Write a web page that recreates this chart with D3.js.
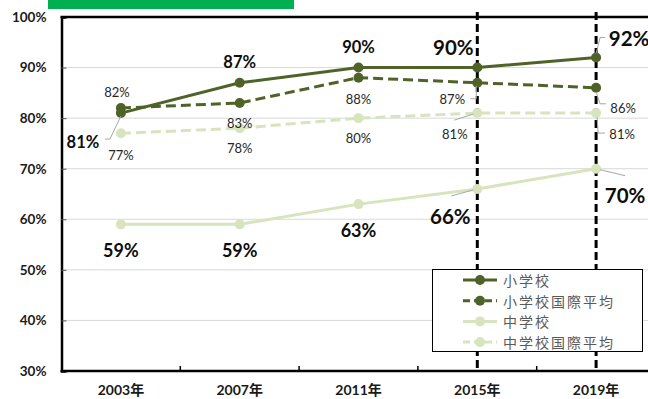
<!DOCTYPE html>
<html>
<head>
<meta charset="utf-8">
<script src="https://cdn.jsdelivr.net/npm/d3@7"></script>
<style>
  html, body { margin: 0; padding: 0; background: #fff; }
  svg { display: block; }
</style>
</head>
<body>
<svg id="chart" width="648" height="399"></svg>
<script>
// Survey years and the four percentage series
const years = ['2003年', '2007年', '2011年', '2015年', '2019年'];
const elementary = [81, 87, 90, 90, 92];
const elementaryIntl = [82, 83, 88, 87, 86];
const juniorHigh = [59, 59, 63, 66, 70];
const juniorHighIntl = [77, 78, 80, 81, 81];
const yTicks = [30, 40, 50, 60, 70, 80, 90, 100];
const seriesNames = ['小学校', '小学校国際平均', '中学校', '中学校国際平均'];
const markedYears = ['2015年', '2019年'];

const DARK = '#4f6228';
const LIGHT = '#d7e4bd';
const NUM_FONT = 'Lato, "Liberation Sans", sans-serif';
const CJK_FONT = '"Noto Sans CJK JP", "Noto Sans", sans-serif';

const svg = d3.select('#chart');
const W = 648;

const x = d3.scaleBand().domain(years).range([61.5, 655.5]);
const y = d3.scaleLinear().domain([30, 100]).range([371, 17]);
const cx = d => x(d) + x.bandwidth() / 2;

// header band
svg.append('rect').attr('x', 48).attr('y', 0).attr('width', 246).attr('height', 9).attr('fill', '#00b050');

// horizontal gridlines
svg.append('g').selectAll('line')
  .data(yTicks.filter(t => t > 30 && t < 100))
  .join('line')
  .attr('x1', x.range()[0]).attr('x2', W)
  .attr('y1', d => y(d)).attr('y2', d => y(d))
  .attr('stroke', '#d9d9d9').attr('stroke-width', 1);

// y axis with inward ticks
const yAxis = svg.append('g')
  .attr('transform', `translate(${x.range()[0]},0)`)
  .call(d3.axisLeft(y).tickValues(yTicks).tickFormat(d => d + '%').tickSize(-5).tickPadding(15));
yAxis.select('.domain').attr('stroke', '#000').attr('stroke-width', 2.5);
yAxis.selectAll('.tick line').attr('stroke', '#595959').attr('stroke-width', 1);
yAxis.selectAll('.tick text')
  .attr('font-family', NUM_FONT).attr('font-weight', 'bold').attr('font-size', 13.5).attr('fill', '#1a1a1a');

// top frame line
svg.append('line')
  .attr('x1', x.range()[0] - 1).attr('x2', W)
  .attr('y1', y(100)).attr('y2', y(100))
  .attr('stroke', '#000').attr('stroke-width', 2.5);

// x axis: labels at category centres, ticks at category boundaries
const xAxis = svg.append('g')
  .attr('transform', `translate(0,${y(30)})`)
  .call(d3.axisBottom(x).tickSize(0).tickPadding(14));
xAxis.select('.domain').remove();
xAxis.selectAll('.tick text')
  .attr('font-family', `Lato, "Noto Sans CJK JP", sans-serif`).attr('font-weight', 'bold')
  .attr('font-size', 14).attr('fill', '#1a1a1a');
svg.append('line')
  .attr('x1', x.range()[0] - 1).attr('x2', W)
  .attr('y1', y(30)).attr('y2', y(30))
  .attr('stroke', '#000').attr('stroke-width', 2.5);
svg.append('g').selectAll('line')
  .data(years.slice(1).concat(['end']))
  .join('line')
  .attr('x1', (d, i) => x.range()[0] + x.step() * (i + 1))
  .attr('x2', (d, i) => x.range()[0] + x.step() * (i + 1))
  .attr('y1', y(30)).attr('y2', y(30) - 5)
  .attr('stroke', '#000').attr('stroke-width', 1.5);

// dashed year markers
svg.append('g').selectAll('line')
  .data(markedYears)
  .join('line')
  .attr('x1', d => cx(d)).attr('x2', d => cx(d))
  .attr('y1', 12).attr('y2', y(30))
  .attr('stroke', '#000').attr('stroke-width', 3).attr('stroke-dasharray', '8,4');

// series definitions
const series = [
  { name: seriesNames[3], values: juniorHighIntl, color: LIGHT, dash: '10,5' },
  { name: seriesNames[2], values: juniorHigh, color: LIGHT, dash: null },
  { name: seriesNames[1], values: elementaryIntl, color: DARK, dash: '10,5' },
  { name: seriesNames[0], values: elementary, color: DARK, dash: null },
];

const line = d3.line().x(d => cx(d.year)).y(d => y(d.v));

series.forEach(s => {
  const pts = s.values.map((v, i) => ({ year: years[i], v }));
  const g = svg.append('g');
  g.append('path')
    .datum(pts)
    .attr('d', line)
    .attr('fill', 'none')
    .attr('stroke', s.color)
    .attr('stroke-width', 3)
    .attr('stroke-dasharray', s.dash);
  g.selectAll('circle')
    .data(pts)
    .join('circle')
    .attr('cx', d => cx(d.year)).attr('cy', d => y(d.v))
    .attr('r', 5).attr('fill', s.color);
});

// value-label placement per series: [dx, dy, size, bold, leader points relative to the mark]
const placements = {
  '小学校': [
    [-38, 29, 16.5, true, [[0, 3], [-11, 26], [-16, 26]]],
    [0, -21, 16.5, true, null],
    [0, -21, 16.5, true, null],
    [-24, -21, 20.5, true, null],
    [33, -19, 20.5, true, [[0, -4], [4, -20], [9, -20]]],
  ],
  '小学校国際平均': [
    [-4, -16, 13, false, null],
    [0, 20, 13, false, null],
    [0, 21, 13, false, null],
    [-25, 16, 13, false, [[-1, 3], [-1, 16], [-7, 16]]],
    [27, 20.5, 13, false, [[0, 4], [4, 16], [10, 16]]],
  ],
  '中学校': [
    [0, 26, 18, true, null],
    [0, 26, 18, true, null],
    [0, 26, 18, true, null],
    [-27, 27, 20.5, true, [[-4, 1], [-26, 7]]],
    [29, 26, 20.5, true, [[4, 1], [29, 7]]],
  ],
  '中学校国際平均': [
    [0, 22, 13, false, null],
    [0, 20, 13, false, null],
    [0, 20, 13, false, null],
    [-22.5, 20.5, 13, false, [[-4, 1], [-23, 7]]],
    [26, 20.5, 13, false, [[1, 4], [2, 20], [9, 20]]],
  ],
};

const labels = svg.append('g');
series.forEach(s => {
  s.values.forEach((v, i) => {
    const [dx, dy, size, bold, leader] = placements[s.name][i];
    const px = cx(years[i]), py = y(v);
    if (leader) {
      labels.append('path')
        .attr('d', d3.line()(leader.map(p => [px + p[0], py + p[1]])))
        .attr('fill', 'none').attr('stroke', '#a6a6a6').attr('stroke-width', 1);
    }
    labels.append('text')
      .attr('x', px + dx).attr('y', py + dy)
      .attr('text-anchor', 'middle').attr('dominant-baseline', 'central')
      .attr('font-family', NUM_FONT)
      .attr('font-weight', bold ? 'bold' : 'normal')
      .attr('font-size', size)
      .attr('fill', bold ? '#0d0d0d' : '#262626')
      .text(v + '%');
  });
});

// legend
const lg = svg.append('g');
lg.append('rect').attr('x', 432.5).attr('y', 269.5).attr('width', 210).attr('height', 82)
  .attr('fill', '#fff').attr('stroke', '#000').attr('stroke-width', 1);
const legendItems = [series[3], series[2], series[1], series[0]];
legendItems.forEach((s, i) => {
  const ly = 280 + i * 20.7;
  lg.append('line').attr('x1', 463).attr('x2', 497).attr('y1', ly).attr('y2', ly)
    .attr('stroke', s.color).attr('stroke-width', 3).attr('stroke-dasharray', s.dash ? '7,4' : null);
  lg.append('circle').attr('cx', 480).attr('cy', ly).attr('r', 5).attr('fill', s.color);
  lg.append('text').attr('x', 503).attr('y', ly).attr('dominant-baseline', 'central')
    .attr('font-family', CJK_FONT).attr('font-size', 14).attr('letter-spacing', 2)
    .attr('fill', '#595959')
    .text(s.name);
});
</script>
</body>
</html>
